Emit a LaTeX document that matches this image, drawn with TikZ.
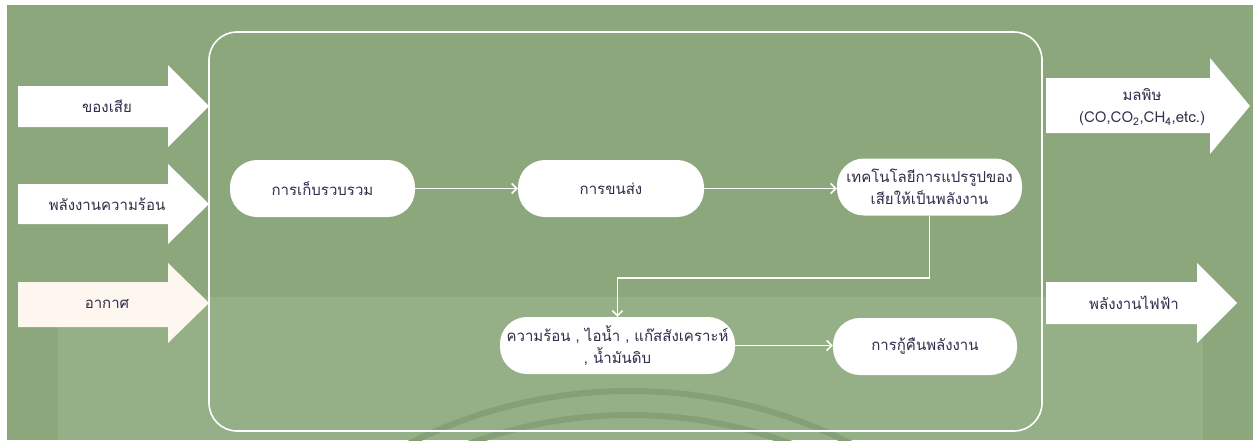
\documentclass[tikz,border=0pt]{standalone}
\usepackage{fontspec}
\newfontfamily\thaifont[Script=Thai]{Loma}
\usetikzlibrary{arrows.meta}
\definecolor{bgdark}{HTML}{8CA77C}
\definecolor{bglight}{HTML}{95AF86}
\definecolor{arcc}{HTML}{85A077}
\definecolor{txt}{HTML}{302C4A}
\definecolor{cream}{HTML}{FDF7F0}
\tikzset{
  lbl/.style={text=txt, font=\thaifont\fontsize{15}{22}\selectfont, align=center, inner sep=0pt},
  proc/.style={lbl, fill=white, draw=none, rounded corners=27pt, minimum height=57pt},
  conn/.style={draw=white, line width=1.6pt, -{Straight Barb[length=5pt,width=10pt,line width=1.6pt]}},
  bigarrow/.style={fill=white, draw=none},
}
\begin{document}
\begin{tikzpicture}[x=1pt,y=-1pt]
\useasboundingbox (0,0) rectangle (1253,440);
\fill[white] (0,0) rectangle (1253,440);
\fill[bgdark] (7,5) rectangle (1253,440);
\fill[bglight] (58,297) rectangle (1203,440);
\begin{scope}
  \clip (7,5) rectangle (1253,440);
  \draw[arcc, line width=6pt] (630,880) circle[radius=489];
  \draw[arcc, line width=6pt] (630,880) circle[radius=465];
\end{scope}
% big box
\draw[white, line width=1.6pt, rounded corners=28pt] (209,32) rectangle (1042,431);
% input arrows
\fill[bigarrow] (18,86) -- (168,86) -- (168,65) -- (209,106) -- (168,147) -- (168,127) -- (18,127) -- cycle;
\fill[bigarrow] (18,184) -- (168,184) -- (168,164) -- (209,204) -- (168,244) -- (168,224) -- (18,224) -- cycle;
\fill[cream] (18,282) -- (168,282) -- (168,263) -- (209,303) -- (168,343) -- (168,327) -- (18,327) -- cycle;
\node[lbl] (in1) at (107,106) {ของเสีย};
\node[lbl] (in2) at (107,204) {พลังงานความร้อน};
\node[lbl] (in3) at (107,304) {อากาศ};
% output arrows
\fill[bigarrow] (1046,78) -- (1210,78) -- (1210,58) -- (1250,106) -- (1210,154) -- (1210,133) -- (1046,133) -- cycle;
\fill[bigarrow] (1046,282) -- (1197,282) -- (1197,263) -- (1237,303) -- (1197,343) -- (1197,324) -- (1046,324) -- cycle;
\node[lbl] (out1) at (1142,107) {มลพิษ\\(CO,CO\textsubscript{2},CH\textsubscript{4},etc.)};
\node[lbl] (out2) at (1134,303) {พลังงานไฟฟ้า};
% process nodes
\node[proc, minimum width=185pt] (n1) at (322.5,188.5) {การเก็บรวบรวม};
\node[proc, minimum width=186pt] (n2) at (611,188.5) {การขนส่ง};
\node[proc, minimum width=185pt] (n3) at (929.5,187) {เทคโนโลยีการแปรรูปของ\\เสียให้เป็นพลังงาน};
\node[proc, minimum width=235pt] (n4) at (617.5,345.5) {ความร้อน , ไอน้ำ , แก๊สสังเคราะห์\\, น้ำมันดิบ};
\node[proc, minimum width=184pt] (n5) at (925,346.5) {การกู้คืนพลังงาน};
% connectors
\draw[conn] (n1.east) -- (n2.west);
\draw[conn] (n2.east) -- (n2.east -| n3.west);
\draw[conn] (n3.south) -- ++(0,62.5) -| (n4.north);
\draw[conn] (n4.east) -- (n4.east -| n5.west);
\end{tikzpicture}
\end{document}
